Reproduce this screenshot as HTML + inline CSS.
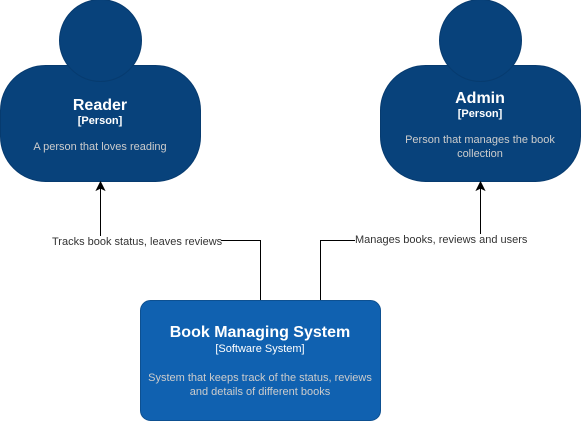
<!DOCTYPE html>
<html><head><style>
body{margin:0;width:581px;height:421px;background:#fff;overflow:hidden;font-family:"Liberation Sans",Arial,sans-serif}
</style></head><body>
<svg width="581" height="421" xmlns="http://www.w3.org/2000/svg" font-family="Liberation Sans, Arial, sans-serif">
<!-- Reader -->
<rect x="0.5" y="65.5" width="200" height="116" rx="45" fill="#08427B" stroke="#073B6F"/>
<circle cx="100.5" cy="40.5" r="41" fill="#08427B" stroke="#073B6F"/>
<text x="100" y="110" text-anchor="middle" fill="#fff" font-size="16" font-weight="bold">Reader</text>
<text x="100" y="124" text-anchor="middle" fill="#fff" font-size="11" font-weight="bold">[Person]</text>
<text x="100" y="150" text-anchor="middle" fill="#ccc" font-size="11">A person that loves reading</text>
<!-- Admin -->
<rect x="380.5" y="65.5" width="200" height="116" rx="45" fill="#08427B" stroke="#073B6F"/>
<circle cx="480.5" cy="40.5" r="41" fill="#08427B" stroke="#073B6F"/>
<text x="480" y="103" text-anchor="middle" fill="#fff" font-size="16" font-weight="bold">Admin</text>
<text x="480" y="117" text-anchor="middle" fill="#fff" font-size="11" font-weight="bold">[Person]</text>
<text x="480" y="143" text-anchor="middle" fill="#ccc" font-size="11">Person that manages the book</text>
<text x="480" y="157" text-anchor="middle" fill="#ccc" font-size="11">collection</text>
<!-- System -->
<rect x="140.5" y="300.5" width="240" height="120" rx="10" fill="#1061B0" stroke="#0D5091"/>
<text x="260" y="337" text-anchor="middle" fill="#fff" font-size="16" font-weight="bold">Book Managing System</text>
<text x="260" y="352" text-anchor="middle" fill="#fff" font-size="11">[Software System]</text>
<text x="260" y="381" text-anchor="middle" fill="#ccc" font-size="11">System that keeps track of the status, reviews</text>
<text x="260" y="395" text-anchor="middle" fill="#ccc" font-size="11">and details of different books</text>
<!-- connectors -->
<path d="M260.5,300 V240.5 H221" fill="none" stroke="#000"/>
<path d="M100.5,236 V188" fill="none" stroke="#000"/>
<path d="M100.5,182 L104.5,190 L100.5,188 L96.5,190 Z" fill="#000" stroke="#000"/>
<text x="52" y="245" fill="#333" font-size="11">Tracks book status, leaves reviews</text>
<path d="M320.5,300 V240.5 H355" fill="none" stroke="#000"/>
<path d="M480.5,234 V188" fill="none" stroke="#000"/>
<path d="M480.5,182 L484.5,190 L480.5,188 L476.5,190 Z" fill="#000" stroke="#000"/>
<text x="355" y="243" fill="#333" font-size="11">Manages books, reviews and users</text>
</svg>
</body></html>
